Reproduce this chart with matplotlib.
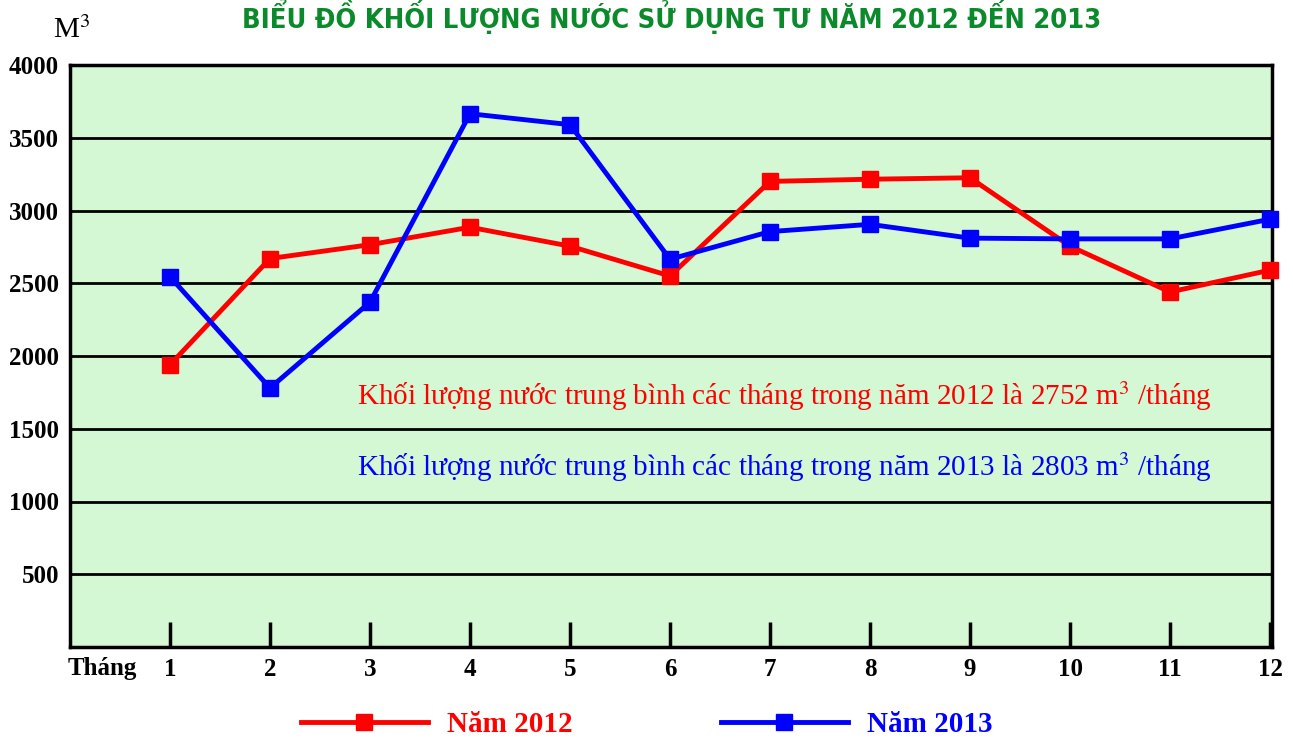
import matplotlib.pyplot as plt
from matplotlib.lines import Line2D

plt.rcParams['mathtext.fontset'] = 'stix'

# Dữ liệu
months = list(range(1, 13))
nam_2012 = [1940, 2670, 2765, 2885, 2755, 2550, 3200, 3215, 3225, 2755, 2440, 2590]
nam_2013 = [2545, 1780, 2370, 3665, 3590, 2665, 2855, 2905, 2810, 2805, 2805, 2940]
y_ticks = [500, 1000, 1500, 2000, 2500, 3000, 3500, 4000]
avg_2012 = 2752
avg_2013 = 2803

serif = 'Liberation Serif'

fig = plt.figure(figsize=(12.93, 7.42), dpi=100)
ax = fig.add_axes([70 / 1293, 1 - 647 / 742, 1202 / 1293, 582 / 742])
ax.set_facecolor('#d4f7d4')

ax.plot(months, nam_2012, color='#ff0000', lw=3.5, marker='s', ms=11, zorder=3, clip_on=False)
ax.plot(months, nam_2013, color='#0000ff', lw=3.5, marker='s', ms=11, zorder=4, clip_on=False)

ax.set_xlim(0, 12.02)
ax.set_ylim(0, 4000)

# lưới ngang
for v in y_ticks[:-1]:
    ax.axhline(v, color='black', lw=2, zorder=1)

ax.set_yticks(y_ticks)
ax.set_yticklabels([str(v) for v in y_ticks], fontfamily=serif, fontweight='bold', fontsize=18)
ax.set_xticks(months)
ax.set_xticklabels([str(m) for m in months], fontfamily=serif, fontweight='bold', fontsize=18)
ax.tick_params(axis='x', direction='in', length=18, width=2.5, pad=8)
ax.tick_params(axis='y', length=0, pad=8)
for s in ax.spines.values():
    s.set_linewidth(2.5)

ax.text(-0.002, -21 / 582, 'Tháng', transform=ax.transAxes, ha='left', va='center',
        fontfamily=serif, fontweight='bold', fontsize=18)

ax.text(2.87, 1725, f'Khối lượng nước trung bình các tháng trong năm 2012 là {avg_2012} m$^3$ /tháng',
        color='#ff0000', fontfamily=serif, fontsize=21, va='center', ha='left')
ax.text(2.87, 1235, f'Khối lượng nước trung bình các tháng trong năm 2013 là {avg_2013} m$^3$ /tháng',
        color='#0000ff', fontfamily=serif, fontsize=21, va='center', ha='left')

fig.text(53 / 1293, 1 - 30 / 742, 'M$^3$', fontfamily=serif, fontsize=21, ha='left', va='center')
fig.text(672 / 1293, 1 - 16 / 742, 'BIỂU ĐỒ KHỐI LƯỢNG NƯỚC SỬ DỤNG TƯ NĂM 2012 ĐẾN 2013',
         color='#0a8a2a', fontfamily='DejaVu Sans', fontstretch='condensed', fontweight='bold',
         fontsize=19.5, ha='center', va='center')

handles = [Line2D([], [], color='#ff0000', lw=3.5, marker='s', ms=11),
           Line2D([], [], color='#0000ff', lw=3.5, marker='s', ms=11)]
leg = fig.legend(handles, ['Năm 2012', 'Năm 2013'], loc='center', bbox_to_anchor=(0.5, 1 - 725 / 742),
                 ncol=2, frameon=False, handlelength=4.35, handletextpad=0.65, columnspacing=5.1,
                 prop={'family': serif, 'weight': 'bold', 'size': 21})
leg.get_texts()[0].set_color('#ff0000')
leg.get_texts()[1].set_color('#0000ff')

fig.savefig('out.png', dpi=100)
